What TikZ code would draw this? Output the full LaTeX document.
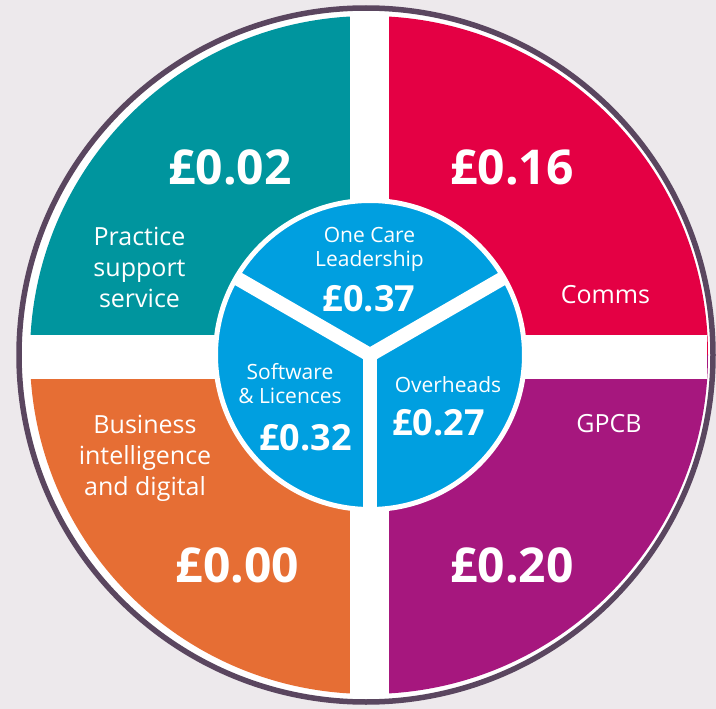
\documentclass[tikz,border=0pt]{standalone}
\usepackage{fontspec}
\setmainfont{Open Sans}
\definecolor{bgpink}{RGB}{237,233,236}
\definecolor{ringpurple}{RGB}{90,70,95}
\definecolor{psteal}{RGB}{0,149,158}
\definecolor{commsred}{RGB}{228,0,68}
\definecolor{biorange}{RGB}{230,110,52}
\definecolor{gpcbpurple}{RGB}{166,23,126}
\definecolor{ocblue}{RGB}{0,159,224}

\begin{document}
\begin{tikzpicture}[x=1pt,y=-1pt,
            bigval/.style={text=white,inner sep=0pt,anchor=base,font=\fontsize{48}{48}\selectfont\bfseries},
            outerlabel/.style={text=white,inner sep=0pt,anchor=base,align=center,font=\fontsize{25}{31}\selectfont},
            innerval/.style={text=white,inner sep=0pt,anchor=base,font=\fontsize{36}{36}\selectfont\bfseries},
            innerlabel/.style={text=white,inner sep=0pt,anchor=base,align=center,font=\fontsize{21}{23.5}\selectfont}]
            \fill[bgpink] (0,0) rectangle (716,709);
            \useasboundingbox (0,0) rectangle (716,709);
            \draw[ringpurple,line width=5.5pt,fill=white] (366,355) circle[radius=347];
            \fill[psteal] (369,355) -- (30,355) arc[start angle=180,end angle=270,radius=339] -- cycle;
            \fill[commsred] (369,355) -- (369,16) arc[start angle=270,end angle=360,radius=339] -- cycle;
            \fill[gpcbpurple] (369,355) -- (708,355) arc[start angle=0,end angle=90,radius=339] -- cycle;
            \fill[biorange] (369,355) -- (369,694) arc[start angle=90,end angle=180,radius=339] -- cycle;
            \fill[white] (350,13) rectangle (389,697);
            \fill[white] (25,335) rectangle (707,379);
            \draw[white,line width=5pt,fill=ocblue] (370,355) circle[radius=154.5];
            \coordinate (hub) at (370,355);
            \coordinate (armleft) at (235.8,277.5);
            \coordinate (armright) at (504.2,277.5);
            \coordinate (armdown) at (370,510);
            \draw[white,line width=14pt] (hub) -- (armleft);
            \draw[white,line width=14pt] (hub) -- (armright);
            \draw[white,line width=14pt] (hub) -- (armdown);
            \node[bigval] (psval) at (230,185) {£0.02};
            \node[outerlabel] (pslabel) at (139.5,307) {Practice\\support\\service};
            \node[bigval] (commsval) at (512,185) {£0.16};
            \node[outerlabel] (commslabel) at (605.5,303) {Comms};
            \node[outerlabel] (bilabel) at (145,495) {Business\\intelligence\\and digital};
            \node[bigval] (bival) at (237.5,582) {£0.00};
            \node[outerlabel] (gpcblabel) at (609,432) {GPCB};
            \node[bigval] (gpcbval) at (512,582) {£0.20};
            \node[innerlabel] (oclabel) at (369.5,266) {One Care\\Leadership};
            \node[innerval] (ocval) at (369,311) {£0.37};
            \node[innerlabel] (swlabel) at (290,403) {Software\\\& Licences};
            \node[innerval] (swval) at (305.5,450) {£0.32};
            \node[innerlabel] (ohlabel) at (448,392) {Overheads};
            \node[innerval] (ohval) at (438.5,435) {£0.27};
\end{tikzpicture}
\end{document}
